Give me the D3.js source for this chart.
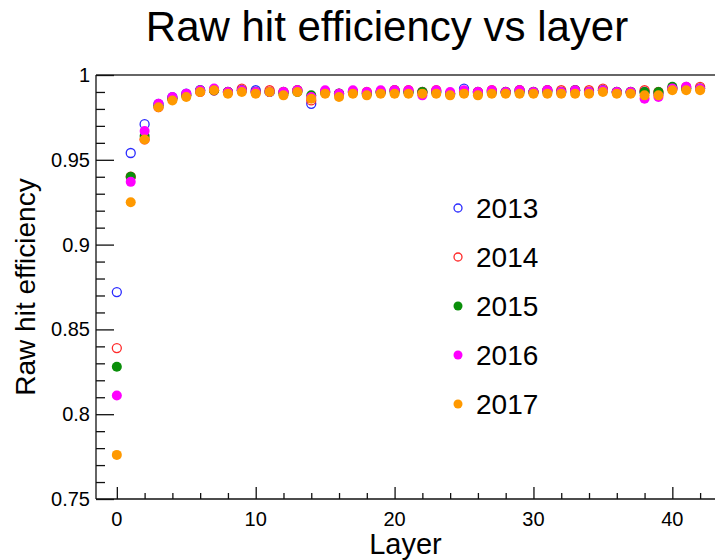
<!DOCTYPE html>
<html>
<head>
<meta charset="utf-8">
<script src="https://cdn.jsdelivr.net/npm/d3@7"></script>
<style>
  body { margin: 0; background: #fff; }
  svg { display: block; font-family: "Liberation Sans", Arial, sans-serif; }
</style>
</head>
<body>
<script>
// raw hit efficiency per layer
const layers = d3.range(0, 43);
const years = ["2013", "2014", "2015", "2016", "2017"];
const eff2013 = [0.872, 0.954, 0.971, 0.983, 0.987, 0.989, 0.991, 0.991, 0.990, 0.991,
  0.991, 0.990, 0.990, 0.991, 0.983, 0.990, 0.989, 0.990, 0.989, 0.990,
  0.991, 0.990, 0.990, 0.990, 0.989, 0.992, 0.990, 0.990, 0.990, 0.991,
  0.990, 0.991, 0.990, 0.991, 0.990, 0.991, 0.990, 0.990, 0.990, 0.989,
  0.992, 0.992, 0.992];
const eff2014 = [0.839, 0.940, 0.962, 0.981, 0.986, 0.988, 0.990, 0.991, 0.990, 0.992,
  0.990, 0.991, 0.990, 0.991, 0.985, 0.990, 0.989, 0.990, 0.990, 0.990,
  0.991, 0.991, 0.990, 0.991, 0.989, 0.990, 0.990, 0.991, 0.990, 0.991,
  0.990, 0.991, 0.991, 0.991, 0.991, 0.992, 0.990, 0.990, 0.991, 0.990,
  0.992, 0.993, 0.993];
const eff2015 = [0.828, 0.940, 0.964, 0.982, 0.986, 0.988, 0.991, 0.991, 0.990, 0.991,
  0.990, 0.990, 0.989, 0.990, 0.988, 0.990, 0.989, 0.990, 0.989, 0.990,
  0.990, 0.990, 0.990, 0.990, 0.989, 0.990, 0.989, 0.990, 0.990, 0.990,
  0.990, 0.990, 0.990, 0.991, 0.990, 0.991, 0.990, 0.990, 0.990, 0.990,
  0.993, 0.992, 0.992];
const eff2016 = [0.811, 0.937, 0.967, 0.983, 0.987, 0.989, 0.991, 0.992, 0.990, 0.991,
  0.990, 0.990, 0.990, 0.991, 0.987, 0.991, 0.989, 0.991, 0.990, 0.991,
  0.991, 0.991, 0.988, 0.991, 0.990, 0.991, 0.990, 0.991, 0.990, 0.991,
  0.990, 0.991, 0.990, 0.991, 0.990, 0.991, 0.990, 0.990, 0.986, 0.987,
  0.992, 0.993, 0.992];
const eff2017 = [0.776, 0.925, 0.962, 0.981, 0.985, 0.987, 0.990, 0.991, 0.989, 0.990,
  0.989, 0.990, 0.988, 0.990, 0.986, 0.989, 0.987, 0.989, 0.988, 0.989,
  0.989, 0.989, 0.989, 0.989, 0.988, 0.989, 0.988, 0.989, 0.989, 0.989,
  0.989, 0.989, 0.989, 0.989, 0.989, 0.990, 0.989, 0.989, 0.988, 0.988,
  0.991, 0.991, 0.991];
const xTicks = [0, 10, 20, 30, 40];
const yTicks = [0.75, 0.8, 0.85, 0.9, 0.95, 1];

const series = [
  {name: years[0], values: eff2013, color: "#2b2bff", open: true},
  {name: years[1], values: eff2014, color: "#ff2b2b", open: true},
  {name: years[2], values: eff2015, color: "#0a8f0a", open: false},
  {name: years[3], values: eff2016, color: "#ff00ff", open: false},
  {name: years[4], values: eff2017, color: "#ff9900", open: false}
];

const width = 715, height = 560;
const margin = {left: 96, right: 1, top: 75, bottom: 61};

const x = d3.scaleLinear().domain([-1.5, 43]).range([margin.left, width - margin.right]);
const y = d3.scaleLinear().domain([0.75, 1]).range([height - margin.bottom, margin.top]);

const svg = d3.select("body").append("svg")
    .attr("width", width)
    .attr("height", height);

// title
svg.append("text")
    .attr("x", 387).attr("y", 41)
    .attr("text-anchor", "middle")
    .attr("font-size", 42)
    .text("Raw hit efficiency vs layer");

// frame top line
svg.append("line")
    .attr("x1", margin.left).attr("x2", width)
    .attr("y1", margin.top).attr("y2", margin.top)
    .attr("stroke", "#333").attr("stroke-width", 1.5);

// x axis, ticks pointing up into the frame
const xAxis = svg.append("g")
    .attr("transform", `translate(0,${height - margin.bottom})`)
    .call(d3.axisTop(x).tickValues(d3.range(0, 43, 2)).tickSize(6).tickFormat(""));
xAxis.selectAll(".tick line").filter(d => d % 10 === 0).attr("y2", -12);
xAxis.select(".domain").attr("d", `M${margin.left},0H${width}`);
xAxis.selectAll("line, path").attr("stroke", "#111").attr("stroke-width", 1.3);

svg.append("g").selectAll("text")
  .data(xTicks)
  .join("text")
    .attr("x", d => x(d))
    .attr("y", height - margin.bottom + 27)
    .attr("text-anchor", "middle")
    .attr("font-size", 20)
    .text(d => d);

// y axis, ticks pointing right into the frame
const yAxis = svg.append("g")
    .attr("transform", `translate(${margin.left},0)`)
    .call(d3.axisRight(y).tickValues(d3.range(75, 101).map(v => v / 100)).tickSize(9).tickFormat(""));
yAxis.selectAll(".tick line").filter(d => Math.round(d * 100) % 5 === 0).attr("x2", 18);
yAxis.select(".domain").attr("d", `M0,${margin.top}V${height - margin.bottom}`);
yAxis.selectAll("line, path").attr("stroke", "#111").attr("stroke-width", 1.3);

svg.append("g").selectAll("text")
  .data(yTicks)
  .join("text")
    .attr("x", margin.left - 6)
    .attr("y", d => y(d) + 7)
    .attr("text-anchor", "end")
    .attr("font-size", 20)
    .text(d => d === 1 ? "1" : d3.format(".2~f")(d));

// axis titles
svg.append("text")
    .attr("x", (margin.left + width) / 2)
    .attr("y", 554)
    .attr("text-anchor", "middle")
    .attr("font-size", 29)
    .text("Layer");

svg.append("text")
    .attr("transform", `translate(35,${(margin.top + height - margin.bottom) / 2}) rotate(-90)`)
    .attr("text-anchor", "middle")
    .attr("font-size", 28)
    .text("Raw hit efficiency");

// points
for (const s of series) {
  svg.append("g").selectAll("circle")
    .data(layers)
    .join("circle")
      .attr("cx", d => x(d))
      .attr("cy", d => y(s.values[d]))
      .attr("r", s.open ? 4.5 : 5)
      .attr("fill", s.open ? "none" : s.color)
      .attr("stroke", s.open ? s.color : "none")
      .attr("stroke-width", 1.3);
}

// legend
const legendY = [208, 257, 306, 355, 404];
const legend = svg.append("g").selectAll("g")
  .data(series)
  .join("g")
    .attr("transform", (d, i) => `translate(458,${legendY[i]})`);
legend.append("circle")
    .attr("r", d => d.open ? 4 : 4.5)
    .attr("fill", d => d.open ? "none" : d.color)
    .attr("stroke", d => d.open ? d.color : "none")
    .attr("stroke-width", 1.3);
legend.append("text")
    .attr("x", 18).attr("y", 10)
    .attr("font-size", 28)
    .text(d => d.name);
</script>
</body>
</html>
